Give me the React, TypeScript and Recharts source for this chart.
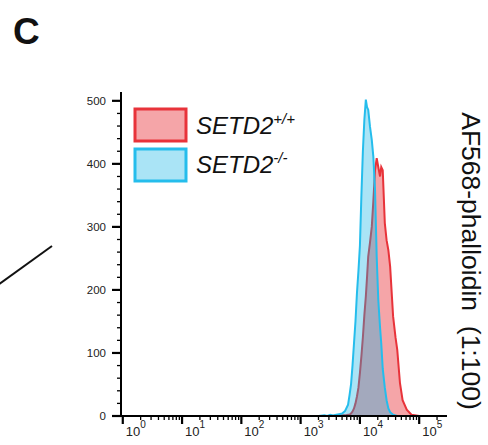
import React from 'react';
import { ComposedChart, Area, XAxis, YAxis } from 'recharts';

// log10 fluorescence intensity (AF568-phalloidin)
const logIntensity = [-0.03, 3.3, 3.4, 3.45, 3.5, 3.55, 3.6, 3.65, 3.7, 3.75, 3.8, 3.825, 3.85, 3.875, 3.9, 3.925, 3.95, 3.975, 4.0, 4.025, 4.05, 4.075, 4.1, 4.12, 4.14, 4.17, 4.2, 4.226, 4.255, 4.283, 4.31, 4.34, 4.36, 4.385, 4.42, 4.45, 4.48, 4.51, 4.56, 4.6, 4.63, 4.676, 4.72, 4.79, 4.87, 4.95, 5.0, 5.469];
// SETD2+/+ counts
const countWT = [0, 0, 0, 0, 0, 0, 1, 0, 1, 1, 2, 2, 4, 7, 12, 20, 31, 45, 68, 95, 125, 160, 190, 220, 253, 275, 300, 340, 390, 409, 395, 380, 395, 390, 306, 279, 263, 237, 158, 125, 105, 52, 25, 10, 2, 1, 0, 0];
// SETD2-/- counts
const countKO = [0, 0, 1, 0, 2, 1, 2, 3, 4, 8, 18, 33, 50, 80, 115, 150, 195, 230, 270, 350, 420, 470, 502, 490, 486, 459, 438, 412, 359, 253, 184, 140, 115, 75, 45, 25, 12, 6, 2, 1, 0, 0, 0, 0, 0, 0, 0, 0];

const yTickLabels = [0, 100, 200, 300, 400, 500];
const xDecades = [0, 1, 2, 3, 4, 5];
const minorMultipliers = [2, 3, 4, 5, 6, 7, 8, 9];

const seriesNames = ['SETD2', 'SETD2'];
const seriesSups = ['+/+', '-/-'];
const axisTitle = 'AF568-phalloidin\u00A0\u00A0(1:100)';
const panelLabel = 'C';

const X_DOMAIN: [number, number] = [-0.03, 5.469];
const Y_DOMAIN: [number, number] = [0, 514];

const data = logIntensity.map((x, i) => ({ x, wt: countWT[i], ko: countKO[i] }));

const yTicks: number[] = [];
for (let i = 0; i < yTickLabels.length; i++) {
  yTicks.push(yTickLabels[i]);
  if (i < yTickLabels.length - 1) {
    const step = (yTickLabels[i + 1] - yTickLabels[i]) / 5;
    for (let k = 1; k < 5; k++) yTicks.push(yTickLabels[i] + k * step);
  }
}

const xTicks: number[] = [];
xDecades.forEach((d) => {
  xTicks.push(d);
  minorMultipliers.forEach((m) => {
    const v = d + Math.log10(m);
    if (v <= X_DOMAIN[1]) xTicks.push(v);
  });
});

const FONT = 'Liberation Sans, Arial, sans-serif';

const YTick = (props: any) => {
  const { x, y, payload } = props;
  const v = payload.value;
  const major = yTickLabels.includes(v);
  return (
    <g>
      <line x1={x - (major ? 9 : 4)} x2={x} y1={y} y2={y} stroke="#000" strokeWidth={major ? 2.2 : 1.3} />
      {major && (
        <text x={x - 15} y={y + 4} textAnchor="end" fontSize={11.5} fontFamily={FONT} fill="#222">
          {v}
        </text>
      )}
    </g>
  );
};

const XTick = (props: any) => {
  const { x, y, payload } = props;
  const v = payload.value;
  const major = Math.abs(v - Math.round(v)) < 1e-9;
  return (
    <g>
      <line x1={x} x2={x} y1={y} y2={y + (major ? 8 : 4)} stroke="#000" strokeWidth={major ? 2.2 : 1.3} />
      {major && (
        <text x={x + 3} y={y + 20} textAnchor="start" fontSize={13} fontFamily={FONT} fill="#222">
          10
          <tspan dy={-8} fontSize={10}>{Math.round(v)}</tspan>
        </text>
      )}
    </g>
  );
};

const colors = [
  { stroke: '#E8333A', fill: '#F5A5A8', legendFill: '#F5A5A8', opacity: 1 },
  { stroke: '#25BDEC', fill: '#0CB2E5', legendFill: '#AAE4F6', opacity: 0.35 },
];

export default function App() {
  return (
    <div style={{ position: 'absolute', left: 0, top: 0, width: 488, height: 445, background: '#fff' }}>
      <ComposedChart width={488} height={445} data={data} margin={{ top: 92, right: 41, bottom: 0, left: 0 }}>
        <XAxis
          dataKey="x"
          type="number"
          domain={X_DOMAIN}
          ticks={xTicks}
          interval={0}
          tickSize={0}
          tickMargin={0}
          tickLine={false}
          tick={<XTick />}
          axisLine={{ stroke: '#000', strokeWidth: 2 }}
          height={29}
          allowDataOverflow
        />
        <XAxis
          xAxisId="top"
          orientation="top"
          type="number"
          domain={X_DOMAIN}
          tick={false}
          tickLine={false}
          axisLine={{ stroke: '#444', strokeWidth: 1.5 }}
          height={0}
          allowDataOverflow
        />
        <YAxis
          type="number"
          domain={Y_DOMAIN}
          ticks={yTicks}
          interval={0}
          tickSize={0}
          tickMargin={0}
          tickLine={false}
          tick={<YTick />}
          axisLine={{ stroke: '#000', strokeWidth: 2 }}
          width={121}
          allowDataOverflow
        />
        <YAxis
          yAxisId="right"
          orientation="right"
          type="number"
          domain={Y_DOMAIN}
          tick={false}
          tickLine={false}
          axisLine={{ stroke: '#444', strokeWidth: 1.5 }}
          width={0}
          allowDataOverflow
        />
        <Area
          dataKey="wt"
          type="linear"
          stroke={colors[0].stroke}
          strokeWidth={2}
          fill={colors[0].fill}
          fillOpacity={colors[0].opacity}
          dot={false}
          activeDot={false}
          isAnimationActive={false}
        />
        <Area
          dataKey="ko"
          type="linear"
          stroke={colors[1].stroke}
          strokeWidth={2}
          fill={colors[1].fill}
          fillOpacity={colors[1].opacity}
          dot={false}
          activeDot={false}
          isAnimationActive={false}
        />
      </ComposedChart>
      <svg width={488} height={445} style={{ position: 'absolute', left: 0, top: 0, pointerEvents: 'none' }}>
        <text x={13} y={44} fontSize={37} fontWeight="bold" fontFamily={FONT} fill="#111">
          {panelLabel}
        </text>
        <line x1={-5} y1={287} x2={52} y2={246} stroke="#111" strokeWidth={2} />
        {seriesNames.map((name, i) => (
          <g key={i}>
            <rect x={135} y={109 + i * 40} width={51} height={32} fill={colors[i].legendFill} stroke={colors[i].stroke} strokeWidth={3} />
            <text x={196} y={134 + i * 39} fontSize={24} fontStyle="italic" fontFamily={FONT} fill="#111">
              {name}
              <tspan dy={-10} fontSize={15}>{seriesSups[i]}</tspan>
            </text>
          </g>
        ))}
        <text
          x={469}
          y={261}
          fontSize={26.5}
          fontFamily={FONT}
          fill="#111"
          textAnchor="middle"
          dominantBaseline="middle"
          transform="rotate(90 469 261)"
        >
          {axisTitle}
        </text>
      </svg>
    </div>
  );
}
